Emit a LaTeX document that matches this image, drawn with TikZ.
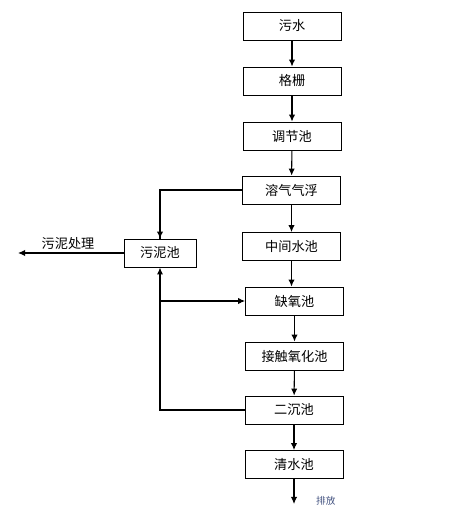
\documentclass[tikz,border=0pt]{standalone}
\usepackage{fontspec}
\setmainfont{Noto Sans CJK SC}
\usetikzlibrary{arrows.meta}
\definecolor{outblue}{RGB}{70,85,130}

\begin{document}
\begin{tikzpicture}[x=0.02cm, y=-0.02cm, font=\fontsize{7.5}{8}\selectfont,
    tank/.style={draw, line width=0.5pt, minimum width=1.96cm, minimum height=0.56cm, inner sep=0pt},
    flow/.style={line width=0.6pt, -{Latex[length=4pt,width=3.6pt]}},
    back/.style={line width=1.1pt}]
    \useasboundingbox (0,0) rectangle (455,523);
    \node[tank] (0) at (292,26) {污水};
    \node[tank] (1) at (292,81) {格栅};
    \node[tank] (2) at (292,136) {调节池};
    \node[tank] (3) at (291.5,190) {溶气气浮};
    \node[tank] (4) at (291.5,246.5) {中间水池};
    \node[tank] (5) at (294.5,301) {缺氧池};
    \node[tank] (6) at (294.5,356) {接触氧化池};
    \node[tank] (7) at (294,410) {二沉池};
    \node[tank] (8) at (294,464.5) {清水池};
    \node[tank, minimum width=1.44cm] (s) at (160,253) {污泥池};
    \coordinate (out) at (294,504);
    \coordinate (dump) at (18,253);
        \draw[flow] (0) -- (1);
        \draw[flow] (1) -- (2);
        \draw[flow] (2) -- (3);
        \draw[flow] (3.south) -- (3.south |- 4.north);
        \draw[flow] (4.south) -- (4.south |- 5.north);
        \draw[flow] (5) -- (6);
        \draw[flow] (6) -- (7);
        \draw[flow] (7) -- (8);
        \draw[flow] (8) -- (out);
    \node[font=\fontsize{5.5}{6}\selectfont, text=outblue, anchor=west] (p) at (310,501) {排放};
    % sludge lines
        \draw[back] (3.west) -| (s.north);
        \draw[flow] ([yshift=0.2cm]s.north) -- (s.north);
        \draw[back, -{Latex[length=4pt,width=3.6pt]}] (7.west) -| (s.south);
        \draw[flow] (s.south |- 5.west) -- (5.west);
        \draw[flow] (s) -- (dump);
    \node (t) at (68,244) {污泥处理};
\end{tikzpicture}
\end{document}
